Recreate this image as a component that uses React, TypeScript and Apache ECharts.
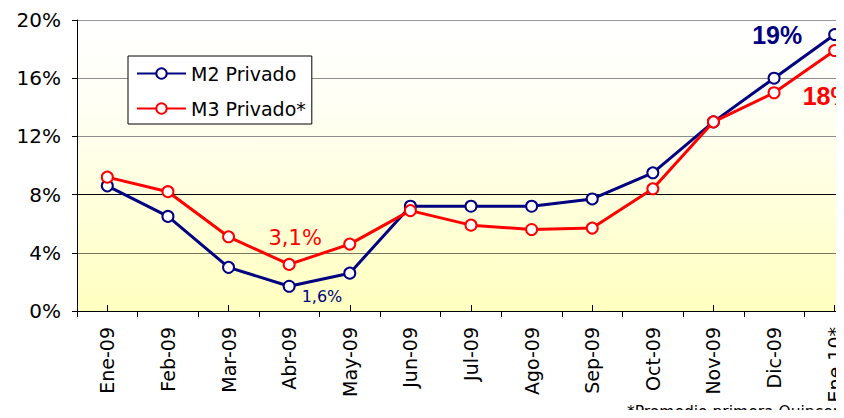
import React, { useEffect, useRef } from "react";
import * as echarts from "echarts";

const categories = ["Ene-09", "Feb-09", "Mar-09", "Abr-09", "May-09", "Jun-09", "Jul-09", "Ago-09", "Sep-09", "Oct-09", "Nov-09", "Dic-09", "Ene 10*"];
const m2Values = [8.6, 6.5, 3.0, 1.7, 2.6, 7.2, 7.2, 7.2, 7.7, 9.5, 13.0, 16.0, 19.0];
const m3Values = [9.2, 8.2, 5.1, 3.2, 4.6, 6.9, 5.9, 5.6, 5.7, 8.4, 13.0, 15.0, 17.9];
const m2Notes: Record<number, string> = { 3: "1,6%", 12: "19%" };
const m3Notes: Record<number, string> = { 3: "3,1%", 12: "18%" };
const yTicks = [0, 4, 8, 12, 16, 20];
const titleText = "Var. % interanual";
const footnoteText = "*Promedio primera Quincena";

const NAVY = "#000080";
const RED = "#ff0000";
const FONT = "DejaVu Sans";

const m2LabelStyles: Record<number, any> = {
  3: { show: true, position: "right", distance: 6, offset: [0, 10], color: NAVY, fontSize: 16, fontFamily: FONT },
  12: { show: true, position: "left", distance: 26, color: NAVY, fontSize: 25, fontWeight: "bold", fontFamily: "Liberation Sans" },
};
const m3LabelStyles: Record<number, any> = {
  3: { show: true, position: "top", distance: 9, offset: [6, 0], color: RED, fontSize: 21, fontFamily: FONT },
  12: { show: true, position: "bottom", distance: 26, offset: [-7, 0], color: RED, fontSize: 25, fontWeight: "bold", fontFamily: "Liberation Sans" },
};

function buildData(values: number[], notes: Record<number, string>, styles: Record<number, any>) {
  return values.map((v, i) =>
    notes[i] !== undefined
      ? { value: v, label: { ...styles[i], formatter: notes[i] } }
      : v
  );
}

export default function App() {
  const ref = useRef<HTMLDivElement>(null);
  useEffect(() => {
    if (!ref.current) return;
    const chart = echarts.init(ref.current, null, { renderer: "svg" });
    chart.setOption({
      animation: false,
      textStyle: { fontFamily: FONT },
      grid: {
        left: 77,
        top: 20,
        width: 788,
        height: 291,
        outerBoundsMode: "none",
        containLabel: false,
        show: true,
        borderWidth: 0,
        backgroundColor: {
          type: "linear",
          x: 0, y: 0, x2: 0, y2: 1,
          colorStops: [
            { offset: 0, color: "#ffffff" },
            { offset: 0.3, color: "#fffff4" },
            { offset: 1, color: "#ffffc0" },
          ],
        },
      },
      legend: {
        orient: "vertical",
        left: 128,
        top: 56,
        padding: [8, 6, 6, 8],
        itemGap: 16,
        itemWidth: 49,
        itemHeight: 13,
        backgroundColor: "#ffffff",
        borderColor: "#000000",
        borderWidth: 1,
        borderRadius: 0,
        textStyle: { fontSize: 19, color: "#000", fontFamily: FONT },
        data: ["M2 Privado", "M3 Privado*"],
      },
      xAxis: [
        {
          type: "category",
          data: categories,
          boundaryGap: true,
          position: "bottom",
          axisLine: { lineStyle: { color: "#000", width: 1 } },
          axisTick: { show: true, inside: false, length: 6, lineStyle: { color: "#000" } },
          axisLabel: { rotate: 90, margin: 16, fontSize: 19, color: "#000", fontFamily: FONT, interval: 0 },
          splitLine: { show: false },
        },
        {
          type: "category",
          data: categories,
          boundaryGap: true,
          position: "bottom",
          axisLine: { show: false },
          axisTick: { show: true, inside: true, length: 6, alignWithLabel: true, lineStyle: { color: "#000" } },
          axisLabel: { show: false },
          splitLine: { show: false },
        },
      ],
      yAxis: {
        type: "value",
        min: yTicks[0],
        max: yTicks[yTicks.length - 1],
        interval: 4,
        axisLine: { show: true, lineStyle: { color: "#000", width: 1 } },
        axisTick: { show: true, length: 5, lineStyle: { color: "#000" } },
        axisLabel: { formatter: "{value}%", fontSize: 20, color: "#000", margin: 16, fontFamily: FONT },
        splitLine: {
          show: true,
          lineStyle: { color: ["#000000", "#77775a", "#000000", "#8c8c8c", "#8c8c8c", "#999999"], width: 1.2 },
        },
      },
      series: [
        {
          name: "M2 Privado",
          type: "line",
          xAxisIndex: 0,
          data: buildData(m2Values, m2Notes, m2LabelStyles),
          symbol: "emptyCircle",
          symbolSize: 11,
          color: NAVY,
          lineStyle: { color: NAVY, width: 3 },
          itemStyle: { color: NAVY, borderColor: NAVY, borderWidth: 2 },
          label: { show: false },
          z: 3,
        },
        {
          name: "M3 Privado*",
          type: "line",
          xAxisIndex: 0,
          data: buildData(m3Values, m3Notes, m3LabelStyles),
          symbol: "emptyCircle",
          symbolSize: 11,
          color: RED,
          lineStyle: { color: RED, width: 3 },
          itemStyle: { color: RED, borderColor: RED, borderWidth: 2 },
          label: { show: false },
          z: 4,
        },
      ],
      graphic: [
        {
          type: "text",
          x: 462,
          y: 11,
          style: { text: titleText, textAlign: "center", textVerticalAlign: "bottom", fontSize: 20, fontFamily: FONT, fill: "#000" },
        },
        {
          type: "text",
          x: 627,
          y: 420,
          style: { text: footnoteText, textAlign: "left", textVerticalAlign: "bottom", fontSize: 15.5, fontFamily: FONT, fill: "#000" },
        },
      ],
    });
    return () => chart.dispose();
  }, []);
  return <div ref={ref} style={{ width: 844, height: 418, margin: -8 }} />;
}
